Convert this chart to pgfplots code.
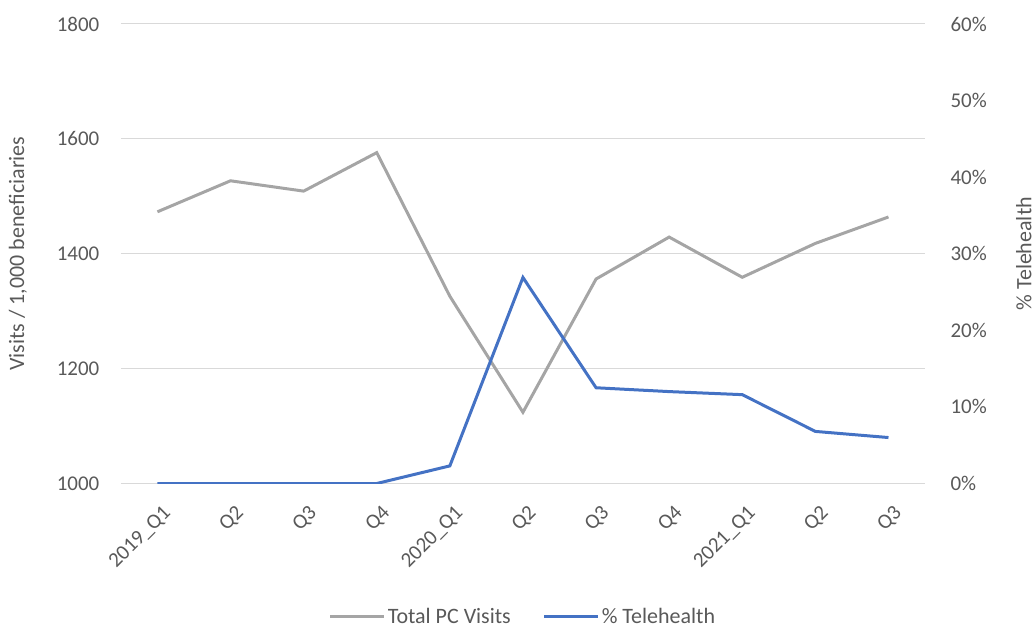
\documentclass[border=0pt]{standalone}
\usepackage{pgfplots}
\pgfplotsset{compat=1.18}
\usepackage{fontspec}
\setmainfont{Carlito}
\definecolor{txt}{HTML}{595959}
\definecolor{grayline}{HTML}{A5A5A5}
\definecolor{blueline}{HTML}{4472C4}
\definecolor{gridc}{HTML}{D9D9D9}
\begin{document}
\begin{tikzpicture}
\pgfplotsset{
  common/.style={width=805pt,height=460pt,scale only axis,
    xmin=-0.5,xmax=10.5,
    axis line style={draw=none}, tick style={draw=none},
    ticklabel style={font=\fontsize{21}{24}\selectfont, text=txt},
    label style={font=\fontsize{22}{25}\selectfont, text=txt},
    /pgf/number format/assume math mode=true,
    /pgf/number format/1000 sep={}}
}
\begin{axis}[common, name=ax, axis y line*=left,
  ymin=1000, ymax=1800, ytick={1000,1200,1400,1600,1800},
  ymajorgrids, grid style={gridc, line width=1pt},
  xtick={0,...,10},
  xticklabels={2019\_Q1,Q2,Q3,Q4,2020\_Q1,Q2,Q3,Q4,2021\_Q1,Q2,Q3},
  xticklabel style={rotate=45, anchor=north east, yshift=-14pt, xshift=-8pt},
  yticklabel style={xshift=-18pt},
  ylabel={Visits / 1,000 beneficiaries},
  ylabel style={at={(axis description cs:-0.128,0.5)}, anchor=center, rotate=0}]
\addplot[grayline, line width=3pt] coordinates {
(0,1473) (1,1527) (2,1509) (3,1576) (4,1326) (5,1124) (6,1356) (7,1429) (8,1359) (9,1418) (10,1464)};
\end{axis}
\begin{axis}[common, axis y line*=right,
  ymin=0, ymax=60, ytick={0,10,...,60},
  yticklabel={\pgfmathprintnumber{\tick}\%},
  yticklabel style={xshift=22pt},
  xtick=\empty,
  ylabel={\% Telehealth},
  ylabel style={at={(axis description cs:1.123,0.5)}, anchor=center},
  legend style={at={(0.5,-0.29)}, anchor=center, legend columns=2, draw=none,
    font=\fontsize{22}{25}\selectfont, text=txt, inner sep=0pt,
    /tikz/every even column/.append style={column sep=30pt},
    nodes={inner xsep=2pt}},
  legend image code/.code={\draw[#1] (0pt,0pt) -- (54pt,0pt);}]
\addlegendimage{grayline, line width=3pt}
\addlegendentry{Total PC Visits}
\addplot[blueline, line width=3pt] coordinates {
(0,0) (1,0) (2,0) (3,0) (4,2.3) (5,26.9) (6,12.5) (7,12.0) (8,11.6) (9,6.8) (10,6.0)};
\addlegendentry{\% Telehealth}
\end{axis}
\path ([xshift=-121pt,yshift=-143pt]ax.south west) rectangle ([xshift=109pt,yshift=24pt]ax.north east);
\end{tikzpicture}
\end{document}
